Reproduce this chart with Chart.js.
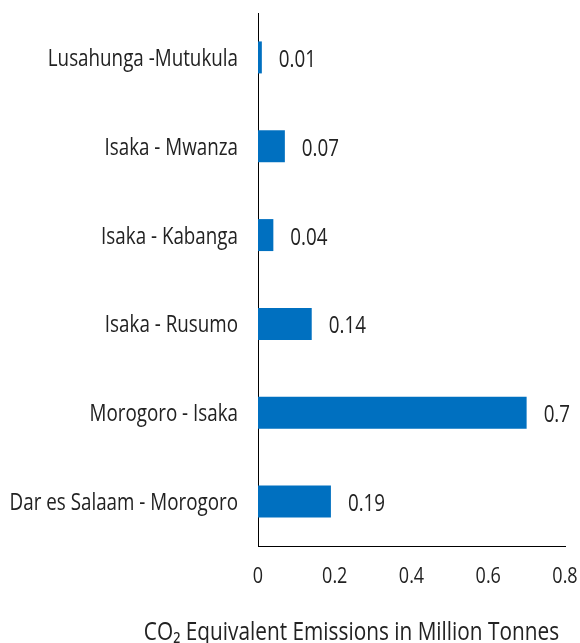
<!DOCTYPE html>
<html>
<head>
<meta charset="utf-8">
<script src="https://cdn.jsdelivr.net/npm/chart.js@4/dist/chart.umd.min.js"></script>
<style>
  html, body { margin: 0; padding: 0; background: #ffffff; overflow: hidden; }
  #wrap { width: 580px; height: 643px; position: relative; }
</style>
</head>
<body>
<div id="wrap"><canvas id="c"></canvas></div>
<script>
const categories = [
  "Lusahunga -Mutukula",
  "Isaka - Mwanza",
  "Isaka - Kabanga",
  "Isaka - Rusumo",
  "Morogoro - Isaka",
  "Dar es Salaam - Morogoro"
];
const emissions = [0.01, 0.07, 0.04, 0.14, 0.7, 0.19];
const valueLabels = ["0.01", "0.07", "0.04", "0.14", "0.7", "0.19"];
const xTickValues = [0, 0.2, 0.4, 0.6, 0.8];
const xTickLabels = ["0", "0.2", "0.4", "0.6", "0.8"];
const axisTitle = "CO\u2082 Equivalent Emissions in Million Tonnes";

const FONT = "'Open Sans', 'Noto Sans', sans-serif";
const WEIGHT = "400";
const TEXT = "#222222";
const SX = 0.8; // horizontal condensing of the text, to mimic a condensed face

function drawText(ctx, text, x, y, align, size) {
  ctx.save();
  ctx.font = WEIGHT + " " + size + "px " + FONT;
  ctx.fillStyle = TEXT;
  ctx.textAlign = align;
  ctx.textBaseline = "alphabetic";
  ctx.translate(x, y);
  ctx.scale(SX, 1);
  ctx.fillText(text, 0, 0);
  ctx.restore();
}

const textPlugin = {
  id: "condensedText",
  afterDatasetsDraw(chart) {
    const ctx = chart.ctx;
    const meta = chart.getDatasetMeta(0);
    meta.data.forEach((bar, i) => {
      drawText(ctx, valueLabels[i], bar.x + 17, bar.y + 9.5, "left", 23.5);
    });
  },
  afterDraw(chart) {
    const ctx = chart.ctx;
    const ys = chart.scales.y;
    const xs = chart.scales.x;
    categories.forEach((c, i) => {
      drawText(ctx, c, chart.chartArea.left - 20, ys.getPixelForTick(i) + 8.5, "right", 23.5);
    });
    xTickValues.forEach((v, i) => {
      drawText(ctx, xTickLabels[i], xs.getPixelForValue(v), xs.top + 37, "center", 22.5);
    });
    drawText(ctx, axisTitle, chart.width * 0.606, chart.height - 3, "center", 26);
  }
};

new Chart(document.getElementById("c"), {
  type: "bar",
  data: {
    labels: categories,
    datasets: [{
      data: emissions,
      backgroundColor: "#0070C0",
      borderWidth: 0,
      barPercentage: 0.36,
      categoryPercentage: 1.0
    }]
  },
  options: {
    indexAxis: "y",
    responsive: true,
    maintainAspectRatio: false,
    animation: false,
    layout: { padding: { top: 13, right: 15, bottom: 52, left: 4 } },
    plugins: {
      legend: { display: false },
      tooltip: { enabled: false }
    },
    scales: {
      x: {
        min: 0,
        max: 0.8,
        afterBuildTicks(scale) {
          scale.ticks = xTickValues.map(v => ({ value: v }));
        },
        afterFit(scale) {
          scale.paddingLeft = 0;
          scale.paddingRight = 0;
          scale.height = 45;
        },
        grid: { display: false, drawTicks: false },
        border: { display: true, color: "#000000", width: 1 },
        ticks: { color: "rgba(0,0,0,0)", font: { family: FONT, size: 19 } }
      },
      y: {
        afterFit(scale) {
          scale.paddingTop = 0;
          scale.paddingBottom = 0;
          scale.width = 254;
        },
        grid: { display: false, drawTicks: false },
        border: { display: true, color: "#000000", width: 1 },
        ticks: { color: "rgba(0,0,0,0)", font: { family: FONT, size: 19 } }
      }
    }
  },
  plugins: [textPlugin]
});
</script>
</body>
</html>
